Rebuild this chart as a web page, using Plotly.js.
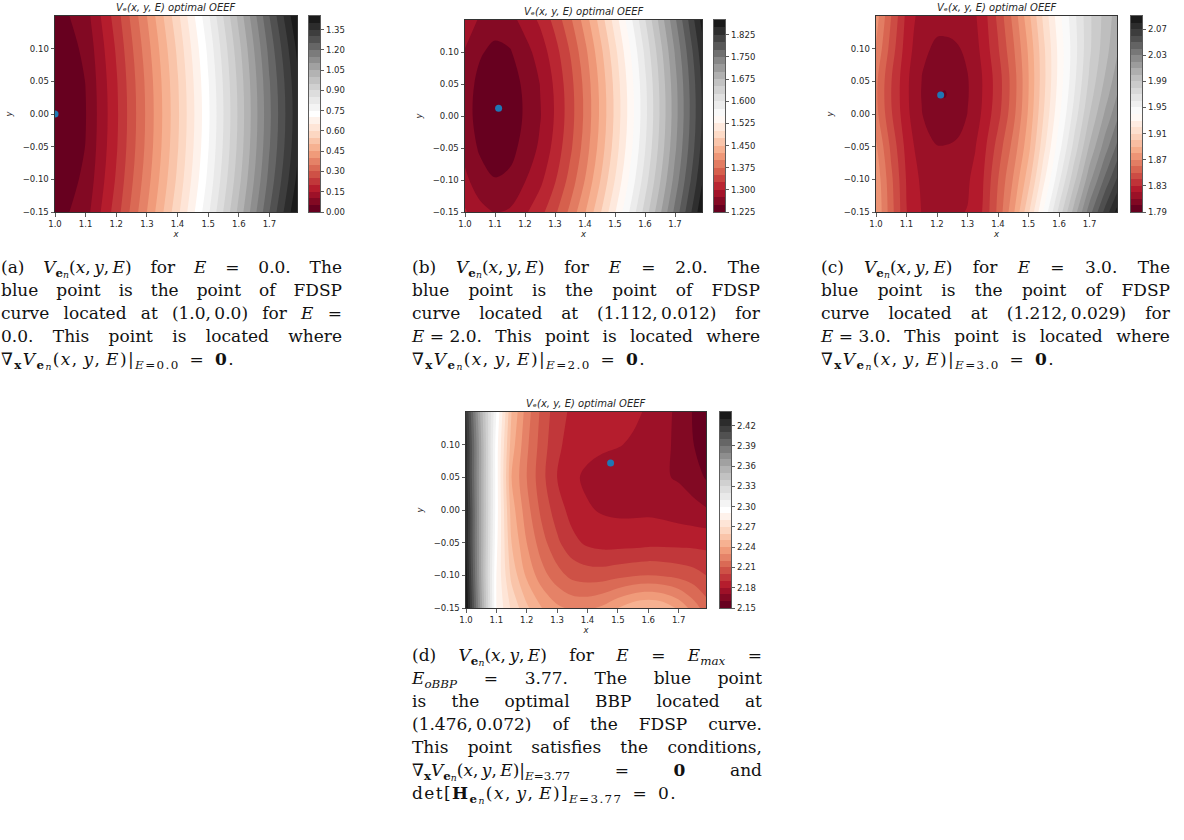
<!DOCTYPE html>
<html><head><meta charset="utf-8">
<script src="https://cdn.plot.ly/plotly-3.0.1.min.js"></script>
<style>
body{margin:0;background:#fff;}
#wrap{position:relative;width:1184px;height:840px;overflow:hidden;}
#plot{position:absolute;left:0;top:0;width:1184px;height:840px;}
.cap{position:absolute;font-family:"DejaVu Serif","Liberation Serif",serif;font-size:17px;color:#111;}
.ln{height:23px;line-height:23px;white-space:nowrap;}
.fl{display:flex;justify-content:space-between;}
.ml{letter-spacing:1.4px;}
.s1{font-size:70%;position:relative;top:0.3em;}
.s2{font-size:78%;position:relative;top:0.2em;}
</style>
</head><body>
<div id="wrap"><div id="plot"></div></div>
<script>
// ---------------- data ----------------
const xCoarse = [1.0, 1.1, 1.2, 1.3, 1.4, 1.5, 1.6, 1.7, 1.79];
const xFine = [1.0, 1.05, 1.1, 1.15, 1.2, 1.25, 1.3, 1.35, 1.4, 1.45, 1.5, 1.55, 1.6, 1.65, 1.7, 1.75, 1.79];
const xGridC = [1.0, 1.05, 1.1, 1.125, 1.15, 1.175, 1.2, 1.225, 1.25, 1.275, 1.3, 1.325, 1.35, 1.4, 1.45, 1.5, 1.55, 1.6, 1.65, 1.7, 1.75, 1.79];
const yGrid = [-0.15, -0.10, -0.05, 0.0, 0.05, 0.10, 0.15];
const yGridC = [-0.15, -0.10, -0.05, 0.0, 0.03, 0.06, 0.10, 0.15];

// (a) E = 0.0
const zA = [
  [0.025, 0.078, 0.225, 0.400, 0.585, 0.790, 1.015, 1.250, 1.445],
  [0.011, 0.061, 0.206, 0.378, 0.560, 0.762, 0.984, 1.217, 1.409],
  [0.003, 0.051, 0.194, 0.364, 0.545, 0.746, 0.966, 1.197, 1.387],
  [0.000, 0.048, 0.190, 0.360, 0.540, 0.740, 0.960, 1.190, 1.380],
  [0.003, 0.051, 0.194, 0.364, 0.545, 0.746, 0.966, 1.197, 1.387],
  [0.011, 0.061, 0.206, 0.378, 0.560, 0.762, 0.984, 1.217, 1.409],
  [0.025, 0.078, 0.225, 0.400, 0.585, 0.790, 1.015, 1.250, 1.445]
];
// (b) E = 2.0
const zB = [
  [1.3030, 1.2830, 1.2735, 1.2780, 1.2960, 1.3160, 1.3450, 1.3810, 1.4230, 1.4710, 1.5230, 1.5780, 1.6350, 1.6950, 1.7570, 1.8190, 1.8690],
  [1.2807, 1.2607, 1.2512, 1.2557, 1.2737, 1.2937, 1.3227, 1.3587, 1.4007, 1.4487, 1.5007, 1.5557, 1.6127, 1.6727, 1.7347, 1.7967, 1.8467],
  [1.2663, 1.2463, 1.2368, 1.2413, 1.2593, 1.2793, 1.3083, 1.3443, 1.3863, 1.4343, 1.4863, 1.5413, 1.5983, 1.6583, 1.7203, 1.7823, 1.8323],
  [1.2602, 1.2402, 1.2307, 1.2352, 1.2532, 1.2732, 1.3022, 1.3382, 1.3802, 1.4282, 1.4802, 1.5352, 1.5922, 1.6522, 1.7142, 1.7762, 1.8262],
  [1.2624, 1.2424, 1.2329, 1.2374, 1.2554, 1.2754, 1.3044, 1.3404, 1.3824, 1.4304, 1.4824, 1.5374, 1.5944, 1.6544, 1.7164, 1.7784, 1.8284],
  [1.2728, 1.2528, 1.2433, 1.2478, 1.2658, 1.2858, 1.3148, 1.3508, 1.3928, 1.4408, 1.4928, 1.5478, 1.6048, 1.6648, 1.7268, 1.7888, 1.8388],
  [1.2914, 1.2714, 1.2619, 1.2664, 1.2844, 1.3044, 1.3334, 1.3694, 1.4114, 1.4594, 1.5114, 1.5664, 1.6234, 1.6834, 1.7454, 1.8074, 1.8574]
];
// (c) E = 3.0  (rows follow yGridC, columns follow xGridC)
const zC = [
  [1.8796, 1.8539, 1.8303, 1.8238, 1.8197, 1.8193, 1.8188, 1.8193, 1.8197, 1.8195, 1.8203, 1.8240, 1.8306, 1.8525, 1.8779, 1.9083, 1.9417, 1.9732, 2.0045, 2.0357, 2.0629, 2.0833],
  [1.8775, 1.8522, 1.8292, 1.8227, 1.8184, 1.8175, 1.8166, 1.8170, 1.8174, 1.8176, 1.8188, 1.8226, 1.8290, 1.8498, 1.8708, 1.8958, 1.9274, 1.9576, 1.9872, 2.0167, 2.0418, 2.0607],
  [1.8716, 1.8475, 1.8265, 1.8200, 1.8150, 1.8126, 1.8104, 1.8104, 1.8111, 1.8125, 1.8151, 1.8195, 1.8258, 1.8441, 1.8635, 1.8868, 1.9169, 1.9459, 1.9736, 2.0014, 2.0246, 2.0420],
  [1.8634, 1.8411, 1.8227, 1.8162, 1.8104, 1.8057, 1.8018, 1.8013, 1.8023, 1.8055, 1.8102, 1.8154, 1.8215, 1.8367, 1.8567, 1.8815, 1.9102, 1.9379, 1.9639, 1.9899, 2.0111, 2.0270],
  [1.8620, 1.8400, 1.8220, 1.8155, 1.8095, 1.8045, 1.8003, 1.7997, 1.8008, 1.8042, 1.8092, 1.8145, 1.8205, 1.8350, 1.8550, 1.8800, 1.9080, 1.9350, 1.9599, 1.9849, 2.0048, 2.0198],
  [1.8632, 1.8409, 1.8224, 1.8159, 1.8101, 1.8055, 1.8016, 1.8011, 1.8021, 1.8052, 1.8097, 1.8147, 1.8206, 1.8353, 1.8552, 1.8798, 1.9071, 1.9333, 1.9572, 1.9812, 1.9999, 2.0140],
  [1.8691, 1.8454, 1.8249, 1.8184, 1.8133, 1.8103, 1.8078, 1.8076, 1.8082, 1.8098, 1.8127, 1.8169, 1.8227, 1.8390, 1.8584, 1.8816, 1.9081, 1.9333, 1.9558, 1.9783, 1.9955, 2.0083],
  [1.8749, 1.8499, 1.8274, 1.8209, 1.8164, 1.8152, 1.8140, 1.8140, 1.8143, 1.8145, 1.8155, 1.8190, 1.8247, 1.8425, 1.8630, 1.8870, 1.9127, 1.9367, 1.9575, 1.9782, 1.9934, 2.0047]
];
// (d) E = Emax = 3.77
const zD = [
  [2.440, 2.365, 2.290, 2.268, 2.252, 2.240, 2.232, 2.228, 2.228, 2.232, 2.240, 2.247, 2.250, 2.247, 2.238, 2.225, 2.215],
  [2.435, 2.360, 2.290, 2.257, 2.238, 2.224, 2.214, 2.207, 2.205, 2.205, 2.207, 2.209, 2.210, 2.209, 2.207, 2.204, 2.200],
  [2.430, 2.360, 2.293, 2.250, 2.230, 2.214, 2.202, 2.193, 2.188, 2.186, 2.186, 2.186, 2.187, 2.187, 2.187, 2.187, 2.187],
  [2.430, 2.360, 2.295, 2.245, 2.224, 2.207, 2.195, 2.186, 2.181, 2.179, 2.178, 2.178, 2.178, 2.177, 2.175, 2.173, 2.171],
  [2.425, 2.360, 2.295, 2.240, 2.220, 2.203, 2.190, 2.182, 2.178, 2.176, 2.175, 2.174, 2.173, 2.171, 2.169, 2.165, 2.159],
  [2.425, 2.360, 2.295, 2.245, 2.222, 2.205, 2.192, 2.186, 2.183, 2.1815, 2.1805, 2.179, 2.177, 2.173, 2.167, 2.160, 2.153],
  [2.420, 2.355, 2.300, 2.250, 2.225, 2.207, 2.194, 2.188, 2.186, 2.184, 2.183, 2.1815, 2.179, 2.174, 2.167, 2.159, 2.152]
];

const ptX = [1.0, 1.112, 1.212, 1.476];
const ptY = [0.0, 0.012, 0.029, 0.072];

// contour levels [lowest, highest, step]
const levA = [0.0, 1.45, 0.05];
const levB = [1.225, 1.875, 0.025];
const levC = [1.79, 2.09, 0.01];
const levD = [2.15, 2.44, 0.01];

const cbTickA = [0.00, 0.15, 0.30, 0.45, 0.60, 0.75, 0.90, 1.05, 1.20, 1.35];
const cbTickB = [1.225, 1.300, 1.375, 1.450, 1.525, 1.600, 1.675, 1.750, 1.825];
const cbTickC = [1.79, 1.83, 1.87, 1.91, 1.95, 1.99, 2.03, 2.07];
const cbTickD = [2.15, 2.18, 2.21, 2.24, 2.27, 2.30, 2.33, 2.36, 2.39, 2.42];

const xTicks = [1.0, 1.1, 1.2, 1.3, 1.4, 1.5, 1.6, 1.7];
const yTicks = [-0.15, -0.10, -0.05, 0.00, 0.05, 0.10];

// ---------------- layout helpers ----------------
const W = 1184, H = 840;
const px = v => v / W, py = v => 1 - v / H;
const RdGy = [[0,'#67001f'],[0.1,'#b2182b'],[0.2,'#d6604d'],[0.3,'#f4a582'],[0.4,'#fddbc7'],[0.5,'#ffffff'],[0.6,'#e0e0e0'],[0.7,'#bababa'],[0.8,'#878787'],[0.9,'#4d4d4d'],[1,'#1a1a1a']];
const TF = {family:'DejaVu Sans', size:8.5, color:'#262626'};
const LF = {family:'DejaVu Sans', size:8.5, color:'#262626'};
const fmt = (v, d) => (v < 0 ? '\u2212' : '') + Math.abs(v).toFixed(d);

const panels = [
  {ax:'', cbax:'5', z:zA, x:xCoarse, y:yGrid, lev:levA, ticks:cbTickA, dec:2, l:55, r:297, t:16, b:212, cb:309},
  {ax:'2', cbax:'6', z:zB, x:xFine, y:yGrid, lev:levB, ticks:cbTickB, dec:3, l:465, r:702, t:20, b:212, cb:714},
  {ax:'3', cbax:'7', z:zC, x:xGridC, y:yGridC, lev:levC, ticks:cbTickC, dec:2, l:876, r:1117, t:16, b:212, cb:1131},
  {ax:'4', cbax:'8', z:zD, x:xFine, y:yGrid, lev:levD, ticks:cbTickD, dec:2, l:466, r:706, t:412, b:608, cb:720}
];

const data = [];
const layout = {width:W, height:H, margin:{l:0,r:0,t:0,b:0}, paper_bgcolor:'#fff', plot_bgcolor:'#fff', showlegend:false, annotations:[]};
const common = {showline:true, mirror:true, linecolor:'#333', linewidth:1, ticks:'outside', ticklen:3.5, tickwidth:0.8, tickcolor:'#333', showgrid:false, zeroline:false, tickfont:TF, fixedrange:true, tickmode:'array', automargin:false};

panels.forEach((p, i) => {
  const xr = 'x' + p.ax, yr = 'y' + p.ax;
  layout['xaxis' + p.ax] = Object.assign({}, common, {domain:[px(p.l), px(p.r)], range:[1.0, 1.79], anchor:yr, tickvals:xTicks, ticktext:xTicks.map(v => v.toFixed(1)),
    title:{text:'<i>x</i>', font:LF, standoff:2}});
  layout['yaxis' + p.ax] = Object.assign({}, common, {domain:[py(p.b), py(p.t)], range:[-0.15, 0.15], anchor:xr, tickvals:yTicks, ticktext:yTicks.map(v => fmt(v, 2)),
    title:{text:'<i>y</i>', font:LF, standoff:8}});
  const [lo, hi, st] = p.lev;
  data.push({
    type:'contour', x:p.x, y:p.y, z:p.z, xaxis:xr, yaxis:yr,
    colorscale:RdGy, autocontour:false, showscale:false,
    contours:{start:lo + st, end:hi - st, size:st, coloring:'fill', showlines:false},
    line:{smoothing:1.0, width:0}, hoverinfo:'skip'
  });
  data.push({type:'scatter', mode:'markers', x:[ptX[i]], y:[ptY[i]], xaxis:xr, yaxis:yr,
    marker:{size:7, color:'#1f77b4'}, hoverinfo:'skip'});

  // colour bar: a one-column heatmap of the contour bands on its own axes
  const n = Math.round((hi - lo) / st);
  const edges = [], mids = [];
  for (let k = 0; k <= n; k++) edges.push(lo + k * st);
  for (let k = 0; k < n; k++) mids.push([lo + (k + 0.5) * st]);
  const cxr = 'x' + p.cbax, cyr = 'y' + p.cbax;
  data.push({type:'heatmap', x:[0, 1], y:edges, z:mids, xaxis:cxr, yaxis:cyr,
    colorscale:RdGy, zmin:lo + st / 2, zmax:hi - st / 2, showscale:false, hoverinfo:'skip'});
  layout['xaxis' + p.cbax] = {domain:[px(p.cb), px(p.cb + 11)], range:[0, 1], anchor:cyr, showline:true, mirror:true, linecolor:'#333', linewidth:0.8,
    ticks:'', showticklabels:false, showgrid:false, zeroline:false, fixedrange:true};
  layout['yaxis' + p.cbax] = Object.assign({}, common, {domain:[py(p.b), py(p.t)], range:[lo, hi], anchor:cxr, side:'right', linewidth:0.8,
    tickvals:p.ticks, ticktext:p.ticks.map(v => v.toFixed(p.dec))});

  layout.annotations.push({xref:'paper', yref:'paper', x:px((p.l + p.r) / 2), y:py(p.t - 1), xanchor:'center', yanchor:'bottom', showarrow:false,
    text:'<i>V\u2091(x, y, E) optimal OEEF</i>', font:{family:'DejaVu Sans', size:10, color:'#262626'}});
});

Plotly.newPlot('plot', data, layout, {staticPlot:true, displayModeBar:false});

// ---------------- captions ----------------
const VEN = '<i>V</i><span class="s1"><b>e</b><span class="s2"><i>n</i></span></span>';
const HEN = '<b>H</b><span class="s1"><b>e</b><span class="s2"><i>n</i></span></span>';
const XYE = '(<i>x</i>,&#8201;<i>y</i>,&#8201;<i>E</i>)';
const NAB = '\u2207<span class="s1"><b>x</b></span>';
const atE = v => '|<span class="s1"><i>E</i>=' + v + '</span>';

const captions = [
  {left:1, top:256, width:341, lines:[
    ['(a)', VEN + XYE, 'for', '<i>E</i>', '=', '0.0.', 'The'],
    ['blue', 'point', 'is', 'the', 'point', 'of', 'FDSP'],
    ['curve', 'located', 'at', '(1.0,&#8201;0.0)', 'for', '<i>E</i>', '='],
    ['0.0.', 'This', 'point', 'is', 'located', 'where'],
    NAB + VEN + XYE + atE('0.0') + '&ensp;=&ensp;<b>0</b>.'
  ]},
  {left:412, top:256, width:348, lines:[
    ['(b)', VEN + XYE, 'for', '<i>E</i>', '=', '2.0.', 'The'],
    ['blue', 'point', 'is', 'the', 'point', 'of', 'FDSP'],
    ['curve', 'located', 'at', '(1.112,&#8201;0.012)', 'for'],
    ['<i>E</i>&nbsp;=&nbsp;2.0.', 'This', 'point', 'is', 'located', 'where'],
    NAB + VEN + XYE + atE('2.0') + '&ensp;=&ensp;<b>0</b>.'
  ]},
  {left:821, top:256, width:349, lines:[
    ['(c)', VEN + XYE, 'for', '<i>E</i>', '=', '3.0.', 'The'],
    ['blue', 'point', 'is', 'the', 'point', 'of', 'FDSP'],
    ['curve', 'located', 'at', '(1.212,&#8201;0.029)', 'for'],
    ['<i>E</i>&nbsp;=&nbsp;3.0.', 'This', 'point', 'is', 'located', 'where'],
    NAB + VEN + XYE + atE('3.0') + '&ensp;=&ensp;<b>0</b>.'
  ]},
  {left:412, top:644, width:350, lines:[
    ['(d)', VEN + XYE, 'for', '<i>E</i>', '=', '<i>E</i><span class="s1"><i>max</i></span>', '='],
    ['<i>E</i><span class="s1"><i>oBBP</i></span>', '=', '3.77.', 'The', 'blue', 'point'],
    ['is', 'the', 'optimal', 'BBP', 'located', 'at'],
    ['(1.476,&#8201;0.072)', 'of', 'the', 'FDSP', 'curve.'],
    ['This', 'point', 'satisfies', 'the', 'conditions,'],
    [NAB + VEN + XYE + atE('3.77'), '=', '<b>0</b>', 'and'],
    'det[' + HEN + XYE + ']<span class="s1"><i>E</i>=3.77</span>&ensp;=&ensp;0.'
  ]}
];

const wrap = document.getElementById('wrap');
captions.forEach(c => {
  const box = document.createElement('div');
  box.className = 'cap';
  box.style.left = c.left + 'px';
  box.style.top = c.top + 'px';
  box.style.width = c.width + 'px';
  c.lines.forEach(l => {
    const d = document.createElement('div');
    if (Array.isArray(l)) {
      d.className = 'ln fl';
      d.innerHTML = l.map(t => '<span>' + t + '</span>').join('');
    } else {
      d.className = 'ln ml';
      d.innerHTML = l;
    }
    box.appendChild(d);
  });
  wrap.appendChild(box);
});
</script>
</body></html>
